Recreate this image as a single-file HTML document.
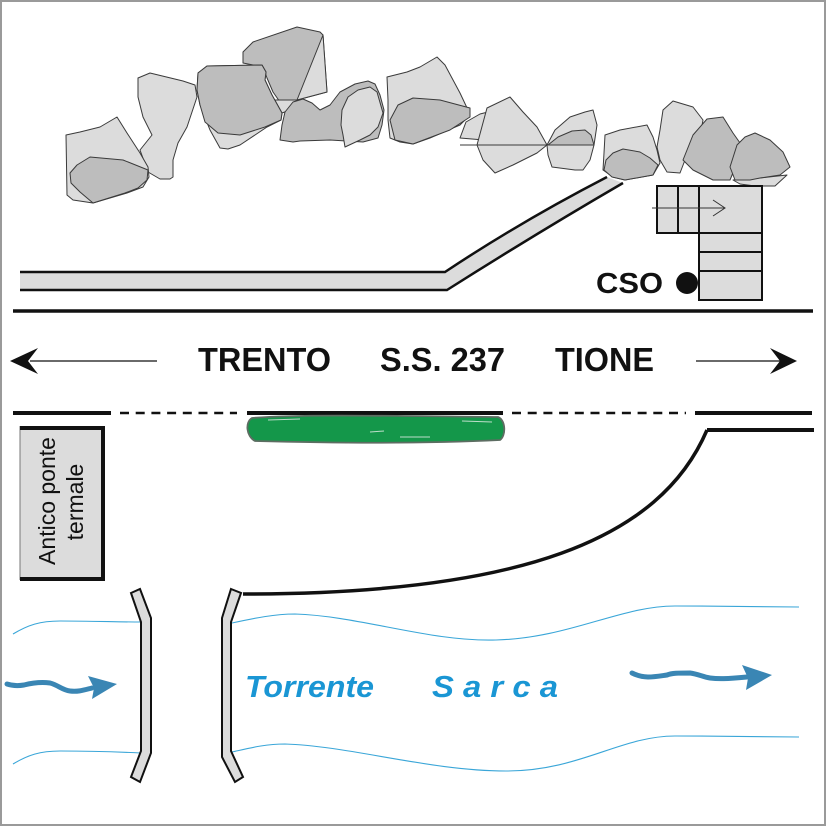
<!DOCTYPE html>
<html><head><meta charset="utf-8"><style>
html,body{margin:0;padding:0;background:#fff;}
svg{display:block;}
text{font-family:"Liberation Sans",Arial,sans-serif;}
</style></head><body>
<svg width="827" height="827" viewBox="0 0 827 827" xmlns="http://www.w3.org/2000/svg">
<rect x="1" y="1" width="824" height="824" fill="#fff" stroke="#9a9a9a" stroke-width="2"/>

<!-- rocks -->
<g stroke="#3a3a3a" stroke-width="1" stroke-linejoin="round">
  <!-- B -->
  <polygon fill="#dcdcdc" points="138,78 150,73 183,81 195,85 197,97 187,127 178,143 173,160 173,177 170,179 160,179 148,172 140,150 152,135 143,117 138,97"/>
  <!-- A -->
  <polygon fill="#dcdcdc" points="66,135 80,132 100,127 117,117 127,133 140,153 148,167 149,177 143,187 127,193 93,203 73,200 67,195"/>
  <polygon fill="#bdbdbd" points="70,173 77,165 90,157 123,160 148,170 147,180 138,188 125,193 93,203 80,192 71,183"/>
  <!-- D -->
  <polygon fill="#bdbdbd" points="243,52 253,42 297,27 320,32 323,35 327,92 297,100 280,102 273,92 267,78 263,67 243,63"/>
  <polygon fill="#dcdcdc" points="323,35 327,92 297,100"/>
  <polygon fill="#dcdcdc" points="273,100 297,100 290,110 282,113"/>
  <!-- C -->
  <polygon fill="#dcdcdc" points="198,73 207,66 262,65 266,72 265,80 272,95 282,113 281,120 267,127 240,145 228,149 220,148 210,130 200,105 197,90"/>
  <polygon fill="#bdbdbd" points="198,73 207,66 262,65 266,72 265,80 272,95 282,113 281,120 265,127 240,135 218,133 205,122 200,105 197,90"/>
  <!-- E -->
  <polygon fill="#bdbdbd" points="280,140 282,125 285,112 293,102 303,99 312,103 320,110 330,105 340,92 355,84 368,81 375,84 380,95 384,110 382,125 378,138 363,142 330,140 300,141 293,142"/>
  <polygon fill="#dcdcdc" points="342,110 348,97 358,90 370,87 377,92 383,113 378,127 370,135 360,140 345,147 343,135 341,125"/>
  <!-- F -->
  <polygon fill="#dcdcdc" points="387,77 407,72 420,67 437,57 445,65 460,93 468,110 470,115 460,125 430,138 413,144 400,142 390,138 388,120 388,100"/>
  <polygon fill="#bdbdbd" points="390,120 398,105 413,98 440,100 470,108 470,117 450,130 413,144 395,140"/>
  <!-- small wedge -->
  <polygon fill="#dcdcdc" points="460,138 466,122 480,114 488,112 484,140"/>
  <!-- G -->
  <polygon fill="#dcdcdc" points="477,145 487,108 510,97 523,112 537,127 547,145 537,153 513,165 495,173 483,160"/>
  <!-- H -->
  <polygon fill="#dcdcdc" points="547,145 555,130 570,117 585,112 593,110 597,125 594,145 590,160 583,170 575,170 552,167 548,155"/>
  <polygon fill="#bdbdbd" points="548,145 558,137 572,131 585,130 591,135 594,145"/>
  <line x1="460" y1="145" x2="594" y2="145"/>
  <!-- I -->
  <polygon fill="#dcdcdc" points="605,135 620,130 647,125 653,137 657,150 660,163 653,175 625,180 613,177 603,170 604,153"/>
  <polygon fill="#bdbdbd" points="606,160 613,153 623,149 640,152 650,158 658,165 653,175 625,180 612,177 604,170"/>
  <!-- J -->
  <polygon fill="#dcdcdc" points="657,147 660,130 663,110 673,101 693,107 703,120 700,137 690,148 685,160 680,173 667,172 660,160"/>
  <!-- K -->
  <polygon fill="#bdbdbd" points="683,160 693,135 707,119 723,117 733,133 745,150 737,163 730,180 713,180 693,170"/>
  <!-- L -->
  <polygon fill="#dcdcdc" points="733,180 760,178 787,175 775,186 755,186 740,184"/>
  <polygon fill="#bdbdbd" points="730,167 737,145 745,137 755,133 770,140 783,152 790,167 780,175 760,178 750,180 735,180"/>
</g>

<!-- pipe -->
<path d="M20,272 L445,272 Q520,222 607,177 L623,183 Q537,233 447,290 L20,290 Z" fill="#dcdcdc"/>
<path d="M20,272 L445,272 Q520,222 607,177" fill="none" stroke="#111" stroke-width="2.5"/>
<path d="M20,290 L447,290 Q537,233 623,183" fill="none" stroke="#111" stroke-width="2.5"/>

<!-- structure boxes -->
<g fill="#dcdcdc" stroke="#111" stroke-width="2">
  <rect x="657" y="186" width="105" height="47"/>
  <rect x="699" y="233" width="63" height="67"/>
  <line x1="678" y1="186" x2="678" y2="233"/>
  <line x1="699" y1="186" x2="699" y2="233"/>
  <line x1="699" y1="252" x2="762" y2="252"/>
  <line x1="699" y1="271" x2="762" y2="271"/>
</g>
<g stroke="#333" stroke-width="1" fill="none">
  <line x1="652" y1="208" x2="725" y2="208"/>
  <polyline points="713,200 725,208 713,216"/>
</g>
<text x="596" y="293" font-size="29" font-weight="bold" fill="#111" textLength="67" lengthAdjust="spacingAndGlyphs">CSO</text>
<circle cx="687" cy="283" r="11" fill="#111"/>

<!-- road -->
<line x1="13" y1="311" x2="813" y2="311" stroke="#111" stroke-width="3.5"/>
<g stroke="#111" stroke-width="4">
  <line x1="13" y1="413" x2="111" y2="413"/>
  <line x1="247" y1="413" x2="503" y2="413"/>
  <line x1="695" y1="413" x2="812" y2="413"/>
  <line x1="707" y1="430" x2="814" y2="430"/>
</g>
<g stroke="#111" stroke-width="2.5" stroke-dasharray="9 6.7">
  <line x1="120" y1="413" x2="237" y2="413"/>
  <line x1="512" y1="413" x2="686" y2="413"/>
</g>

<!-- arrows -->
<line x1="30" y1="361" x2="157" y2="361" stroke="#111" stroke-width="1.2"/>
<polygon points="10,361 38,348 28,361 38,374" fill="#111"/>
<line x1="696" y1="361" x2="780" y2="361" stroke="#111" stroke-width="1.2"/>
<polygon points="797,361 770,348 780,361 770,374" fill="#111"/>

<g font-size="33" font-weight="bold" fill="#111">
  <text x="198" y="371" textLength="133" lengthAdjust="spacingAndGlyphs">TRENTO</text>
  <text x="380" y="371" textLength="125" lengthAdjust="spacingAndGlyphs">S.S. 237</text>
  <text x="555" y="371" textLength="99" lengthAdjust="spacingAndGlyphs">TIONE</text>
</g>

<!-- green blob -->
<path d="M252,418 C300,414 400,416 498,417 C506,420 506,436 500,440 C420,444 330,443 255,441 C246,436 245,422 252,418 Z" fill="#14974a" stroke="#5d6d62" stroke-width="1.8"/>
<g stroke="#e8f0ea" stroke-width="1" fill="none" opacity="0.8">
  <path d="M268,420 L300,419"/>
  <path d="M370,432 L384,431"/>
  <path d="M400,437 L430,437"/>
  <path d="M462,421 L492,422"/>
</g>

<!-- Antico ponte box -->
<rect x="20" y="426" width="85" height="154" fill="#dcdcdc"/>
<line x1="20" y1="426" x2="20" y2="580" stroke="#777" stroke-width="1"/>
<line x1="20" y1="428" x2="105" y2="428" stroke="#111" stroke-width="4"/>
<line x1="103" y1="426" x2="103" y2="581" stroke="#111" stroke-width="4"/>
<line x1="20" y1="579" x2="105" y2="579" stroke="#111" stroke-width="4"/>
<g font-size="23" fill="#111" text-anchor="middle">
  <text transform="translate(55,501) rotate(-90)">Antico ponte</text>
  <text transform="translate(83,502) rotate(-90)">termale</text>
</g>

<!-- bank curve -->
<path d="M243,594 C520,594 660,540 707,430" fill="none" stroke="#111" stroke-width="3.5"/>

<!-- river lines -->
<g stroke="#3aa6d8" stroke-width="1.1" fill="none">
  <path d="M13,634 C28,625 40,621 60,621 C90,621 120,622 141,622"/>
  <path d="M232,623 C255,618 275,614 295,614 C360,616 430,642 496,640 C570,638 620,606 675,606 C720,606 770,607 799,607"/>
  <path d="M13,764 C28,755 40,751 60,751 C90,751 120,752 141,753"/>
  <path d="M232,752 C250,748 265,744 285,744 C350,746 430,771 506,771 C580,771 620,736 675,736 C720,736 770,737 799,737"/>
</g>

<!-- piers -->
<g fill="#dcdcdc" stroke="#111" stroke-width="2" stroke-linejoin="miter">
  <polygon points="131,593 140,589 151,618 151,753 140,782 131,777 141,751 141,622"/>
  <polygon points="231,589 241,593 231,622 231,751 243,777 235,782 222,757 222,618"/>
</g>

<!-- wavy arrows -->
<g stroke="#3a86b4" stroke-width="5" fill="none" stroke-linecap="round" stroke-linejoin="round">
  <path d="M7,684 C13,686 18,686 24,685 C32,683 42,682 50,683 C58,685 62,690 70,691 C78,692 84,690 92,688"/>
  <path d="M632,673 C638,676 642,677 648,677 C655,677 660,676 667,675 C672,673 678,673 690,673 C698,674 703,677 710,678 C718,679 726,679 747,677"/>
</g>
<polygon points="88,676 117,684 92,699 94,688" fill="#3a86b4"/>
<polygon points="742,665 772,675 746,690 748,678" fill="#3a86b4"/>

<!-- river labels -->
<g font-size="31" font-weight="bold" font-style="italic" fill="#1a96d4">
  <text x="245" y="697" textLength="129" lengthAdjust="spacingAndGlyphs">Torrente</text>
  <text x="432" y="697" textLength="126" lengthAdjust="spacingAndGlyphs">S a r c a</text>
</g>
</svg>
</body></html>
